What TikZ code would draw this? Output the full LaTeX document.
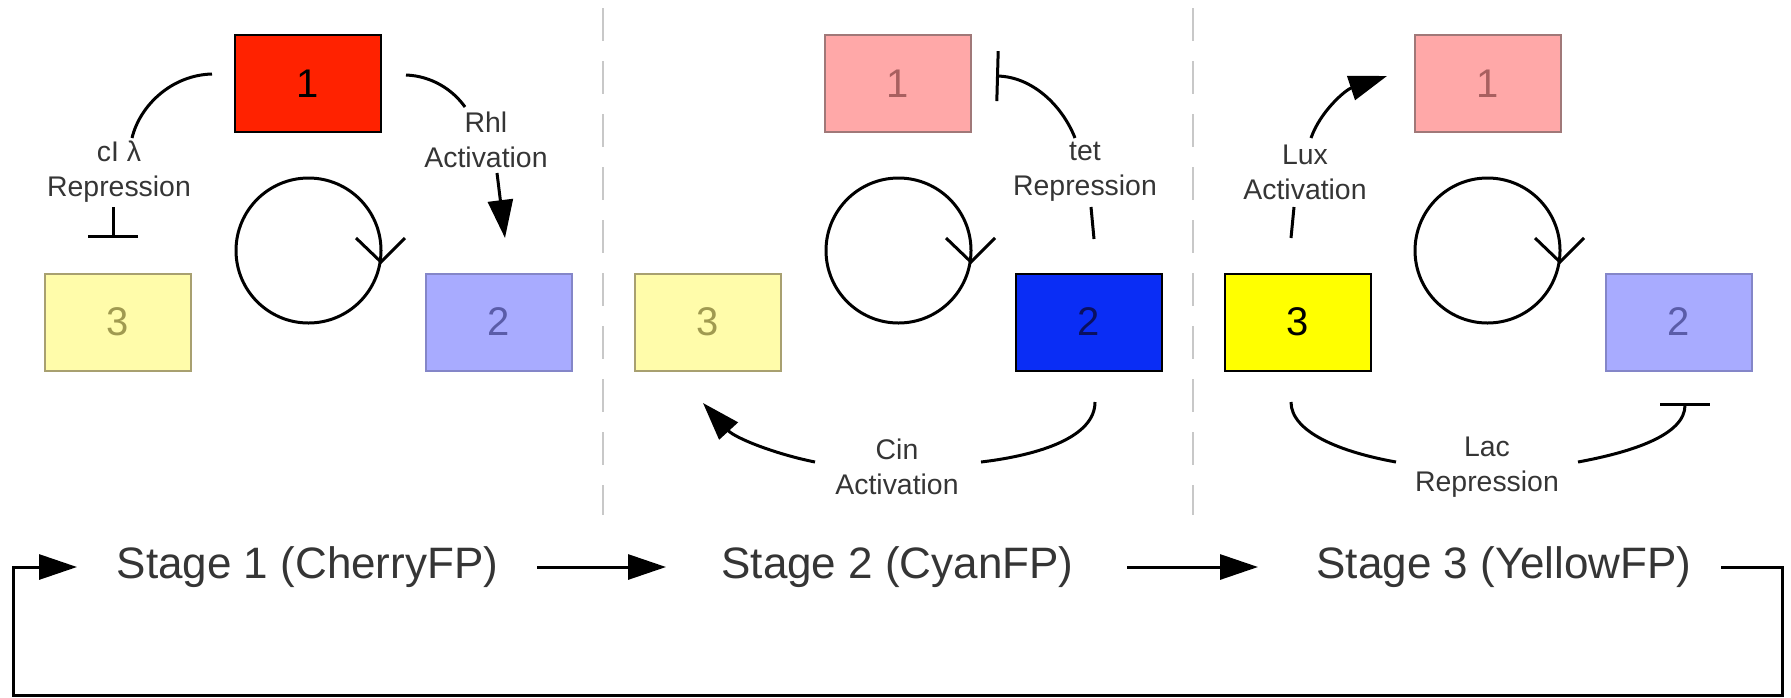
\documentclass[tikz,border=0pt]{standalone}
\usepackage{fontspec}
\setmainfont{Liberation Sans}
\usetikzlibrary{arrows.meta}
\definecolor{redfull}{HTML}{FF2200}
\definecolor{pinkfill}{HTML}{FFA8A8}
\definecolor{pinkdraw}{HTML}{A07878}
\definecolor{pinktext}{HTML}{A86060}
\definecolor{paleyellow}{HTML}{FFFCAA}
\definecolor{pyborder}{HTML}{A8A070}
\definecolor{pytext}{HTML}{A09A50}
\definecolor{lavender}{HTML}{A8ABFF}
\definecolor{lavborder}{HTML}{8486C8}
\definecolor{lavtext}{HTML}{5A5CA8}
\definecolor{bluefull}{HTML}{0A2DF5}
\definecolor{bluetext}{HTML}{0A1060}
\definecolor{yellowfull}{HTML}{FFFF00}
\definecolor{labgray}{HTML}{353535}
\definecolor{divgray}{HTML}{C8C8C8}
\begin{document}
\begin{tikzpicture}[x=0.5pt,y=-0.5pt,
  box/.style={draw, minimum width=73pt, minimum height=48.5pt, inner sep=0pt, line width=1pt, font=\fontsize{20}{24}\selectfont},
  fullbox/.style={box, draw=black},
  pinkbox/.style={box, fill=pinkfill, draw=pinkdraw, text=pinktext},
  pybox/.style={box, fill=paleyellow, draw=pyborder, text=pytext},
  lavbox/.style={box, fill=lavender, draw=lavborder, text=lavtext},
  cyc/.style={draw, circle, line width=1.5pt, minimum size=72.5pt, inner sep=0pt},
  lab/.style={align=center, font=\fontsize{14.2}{17.5}\selectfont, text=labgray, inner sep=0pt},
  conn/.style={line width=1.5pt},
  act/.style={conn, -{Triangle[length=19pt,width=12.5pt]}},
  rep/.style={conn, -{Bar[width=25pt]}},
  stage/.style={font=\fontsize{22}{26}\selectfont, text=labgray, inner sep=0pt},
  divider/.style={line width=1pt, draw=divgray, dash pattern=on 16.5pt off 10pt}]
\useasboundingbox (0,0) rectangle (1791,697);

% dividers
\coordinate (d1t) at (603,8); \coordinate (d1b) at (603,515);
\coordinate (d2t) at (1193,8); \coordinate (d2b) at (1193,515);
\draw[divider] (d1t) -- (d1b);
\draw[divider] (d2t) -- (d2b);

% ---------------- Stage 1
\node[fullbox, fill=redfull, text=black] (s1a) at (308,83.5) {1};
\node[pybox] (s1c) at (118,322) {3};
\node[lavbox] (s1b) at (499,322) {2};
\node[cyc] (s1o) at (308.5,250.5) {};
\coordinate (s1v1) at (356,238); \coordinate (s1v2) at (381,262); \coordinate (s1v3) at (405,238);
\draw[conn] (s1v1) -- (s1v2) -- (s1v3);

\coordinate (cIa) at (212,74); \coordinate (cIb) at (132,138);
\node[lab] (cIl) at (119,172) {cI λ\\Repression};
\coordinate (cIc) at (113,207); \coordinate (cId) at (113,238);
\draw[conn] (cIa) .. controls (172,75) and (140,105) .. (cIb);
\draw[rep] (cIc) -- (cId);

\coordinate (rha) at (406,75); \coordinate (rhb) at (465,107);
\node[lab] (rhl) at (486,140) {Rhl\\Activation};
\coordinate (rhc) at (497,173); \coordinate (rhd) at (505,238);
\draw[conn] (rha) .. controls (432,76) and (453,90) .. (rhb);
\draw[act] (rhc) -- (rhd);

% ---------------- Stage 2
\node[pinkbox] (s2a) at (898,83.5) {1};
\node[pybox] (s2c) at (708,322) {3};
\node[fullbox, fill=bluefull, text=bluetext] (s2b) at (1088.5,322) {2};
\node[cyc] (s2o) at (898.5,250.5) {};
\coordinate (s2v1) at (946,238); \coordinate (s2v2) at (971,262); \coordinate (s2v3) at (995,238);
\draw[conn] (s2v1) -- (s2v2) -- (s2v3);

\coordinate (tea) at (1075,138); \coordinate (teb) at (996,76);
\node[lab] (tel) at (1085,172) {tet\\Repression};
\coordinate (tec) at (1091,207); \coordinate (ted) at (1094,239);
\draw[rep] (tea) .. controls (1062,105) and (1032,77) .. (teb);
\draw[conn] (tec) -- (ted);

\coordinate (cia) at (1095,402); \coordinate (cib) at (981,462);
\node[lab] (cil) at (897,467) {Cin\\Activation};
\coordinate (cic) at (815,462); \coordinate (cid) at (703,403);
\draw[conn] (cia) .. controls (1095,437) and (1040,455) .. (cib);
\draw[act] (cic) .. controls (775,454) and (735,438) .. (cid);

% ---------------- Stage 3
\node[pinkbox] (s3a) at (1487.5,83.5) {1};
\node[fullbox, fill=yellowfull, text=black] (s3c) at (1297.5,322) {3};
\node[lavbox] (s3b) at (1678.5,322) {2};
\node[cyc] (s3o) at (1487.5,250.5) {};
\coordinate (s3v1) at (1535,238); \coordinate (s3v2) at (1560,262); \coordinate (s3v3) at (1584,238);
\draw[conn] (s3v1) -- (s3v2) -- (s3v3);

\coordinate (lua) at (1291,238); \coordinate (lub) at (1294,207);
\node[lab] (lul) at (1305,172) {Lux\\Activation};
\coordinate (luc) at (1311,138); \coordinate (lud) at (1387,76);
\draw[conn] (lua) -- (lub);
\draw[act] (luc) .. controls (1320,112) and (1345,90) .. (lud);

\coordinate (laa) at (1291,402); \coordinate (lab) at (1396,462);
\node[lab] (lal) at (1487,467) {Lac\\Repression};
\coordinate (lac) at (1578,462); \coordinate (lad) at (1685,403);
\draw[conn] (laa) .. controls (1291,432) and (1340,452) .. (lab);
\draw[rep] (lac) .. controls (1632,452) and (1685,435) .. (lad);

% ---------------- Bottom sequence
\node[stage] (st1) at (307.5,567) {Stage 1 (CherryFP)};
\node[stage] (st2) at (897.5,567) {Stage 2 (CyanFP)};
\node[stage] (st3) at (1504,567) {Stage 3 (YellowFP)};
\coordinate (a1s) at (537,567); \coordinate (a1e) at (666,567);
\coordinate (a2s) at (1127,567); \coordinate (a2e) at (1258,567);
\draw[act] (a1s) -- (a1e);
\draw[act] (a2s) -- (a2e);
\coordinate (lp0) at (1721,567); \coordinate (lp1) at (1782,567);
\coordinate (lp2) at (1782,695); \coordinate (lp3) at (13,695);
\coordinate (lp4) at (13,567); \coordinate (lp5) at (77,567);
\draw[act, line join=miter] (lp0) -- (lp1) -- (lp2) -- (lp3) -- (lp4) -- (lp5);
\end{tikzpicture}
\end{document}
